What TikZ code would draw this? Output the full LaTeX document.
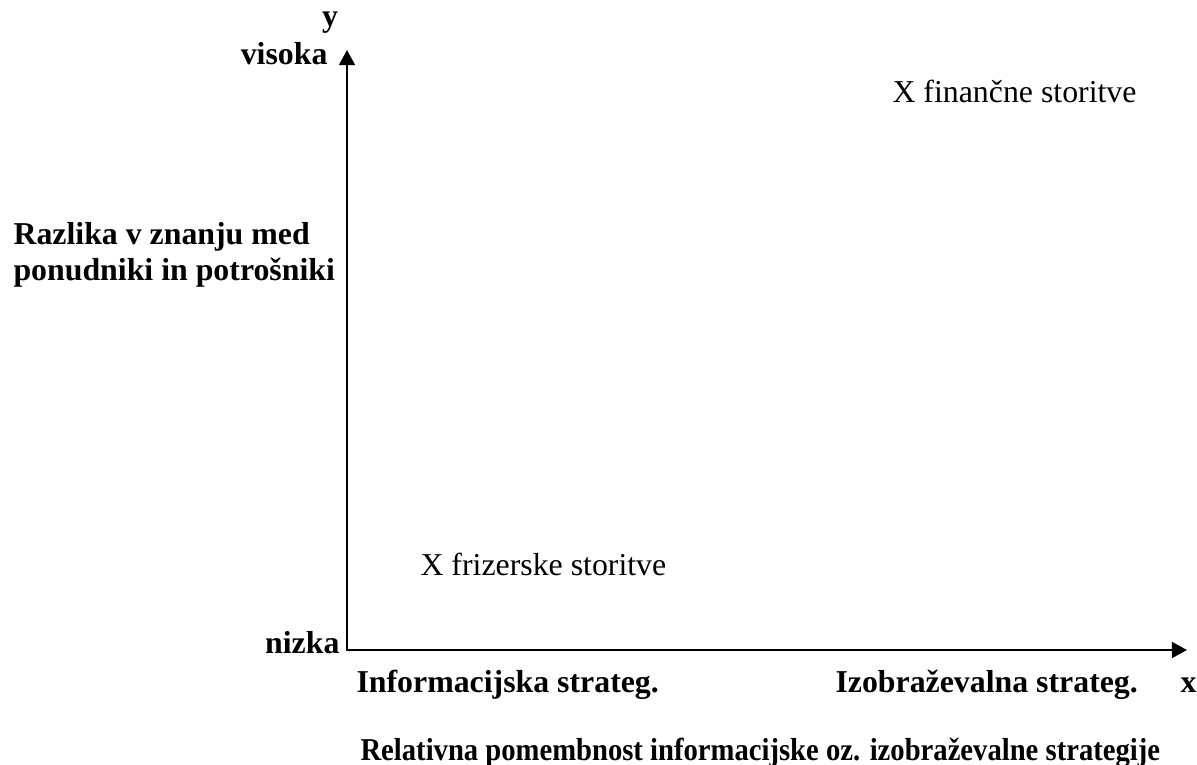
\documentclass[tikz,border=0pt]{standalone}
\usepackage{fontspec}
\setmainfont{Liberation Serif}
\usepackage{graphicx}
\usetikzlibrary{arrows.meta, positioning}

\begin{document}
\begin{tikzpicture}[
  x=0.377pt, y=-0.377pt,
  axis/.style={{Triangle[length=5.7pt, width=6pt]}-{Triangle[length=5.7pt, width=6pt]}, line width=0.75pt},
  plain/.style={inner sep=0pt, anchor=base west, font=\fontsize{12}{14}\selectfont},
  bold/.style={inner sep=0pt, anchor=base west, font=\fontsize{12}{14}\selectfont\bfseries},
  boldr/.style={inner sep=0pt, anchor=base east, font=\fontsize{12}{14}\selectfont\bfseries}
]
\useasboundingbox (0,0) rectangle (1197,764);
% axes
\coordinate (O) at (347,650);
\coordinate (ytip) at (347,50);
\coordinate (xtip) at (1187,650);
\draw[axis] (ytip) -- (O) -- (xtip);
% y axis labels
\node[inner sep=0pt, anchor=base, font=\fontsize{12}{14}\selectfont\bfseries] (ylab) at (330,27) {y};
\node[boldr] (high) at (328,65) {visoka};
\node[boldr] (low) at (340,653) {nizka};
\node[bold] (ytitle1) at (13,244) {Razlika v znanju med};
\node[bold] (ytitle2) at (13,280) {ponudniki in potrošniki};
% points
\node[plain] (fin) at (892,103) {X finančne storitve};
\node[plain] (friz) at (420,575) {X frizerske storitve};
% x axis labels
\node[bold] (info) at (356,692) {Informacijska strateg.};
\node[bold] (edu) at (835,692) {Izobraževalna strateg.};
\node[bold] (xlab) at (1180,692) {x};
\node[bold] (xtitle) at (360,760) {\scalebox{0.9}[1]{Relativna pomembnost informacijske oz. izobraževalne strategije}};
\end{tikzpicture}
\end{document}
